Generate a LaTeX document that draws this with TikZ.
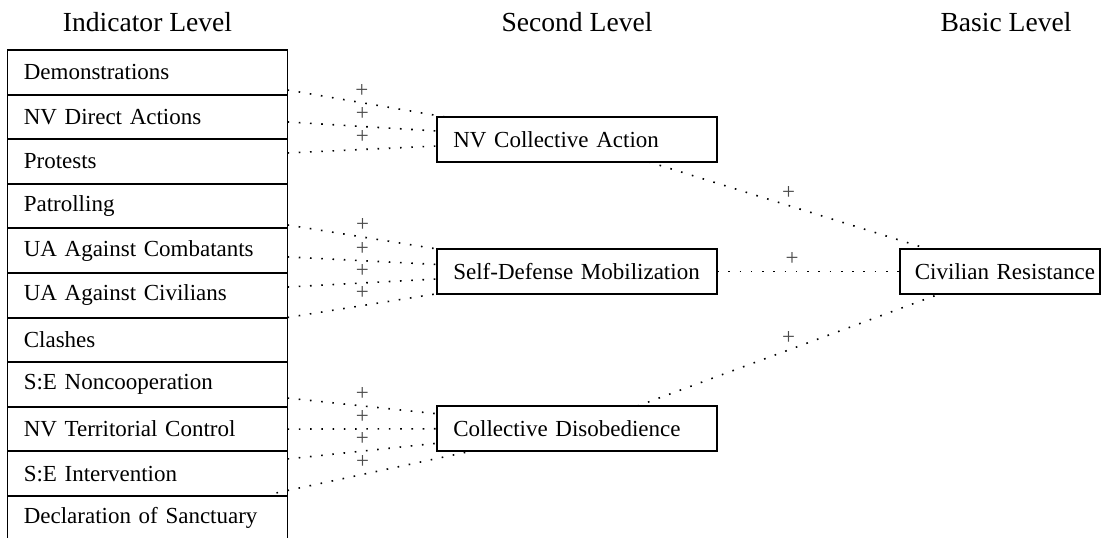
\documentclass[tikz,border=0pt]{standalone}
\usepackage{fontspec}
\setmainfont{Liberation Serif}
\tikzset{
        indicator/.style={draw, line width=0.8pt, outer sep=0pt, minimum height=19.5pt, inner ysep=0pt, inner xsep=7.1pt, text width=107.6pt, align=left, font=\fontsize{10}{12}\selectfont, execute at begin node={\hbox\bgroup}, execute at end node={\egroup}},
        outcome/.style={indicator, inner xsep=2.2pt, text width=82.6pt, align=right},
        levelhead/.style={anchor=base, font=\fontsize{12}{14}\selectfont},
        dotlink/.style={line width=0.7pt, dash pattern=on 0.7pt off 4.2pt},
        signlabel/.style={above, pos=0.5, inner sep=2.1pt, text=black!70, font=\fontsize{10}{12}\selectfont}
}
\begin{document}
\begin{tikzpicture}[x=0.435pt, y=-0.435pt]
        \useasboundingbox (0, 0) rectangle (1102, 538);
        \node[levelhead] (headind) at (147.5, 32) {Indicator Level};
        \node[levelhead] (headsec) at (577, 32) {Second Level};
        \node[levelhead] (headbas) at (1006, 32) {Basic Level};

        \node[indicator] (demo) at (147.5, 72.3) {Demonstrations};
        \node[indicator] (nvdir) at (147.5, 116.9) {NV Direct Actions};
        \node[indicator] (prot) at (147.5, 161.5) {Protests};
        \node[indicator] (patr) at (147.5, 206.1) {Patrolling};
        \node[indicator] (uacomb) at (147.5, 250.7) {UA Against Combatants};
        \node[indicator] (uaciv) at (147.5, 295.3) {UA Against Civilians};
        \node[indicator] (clash) at (147.5, 339.9) {Clashes};
        \node[indicator] (senonc) at (147.5, 384.5) {S:E Noncooperation};
        \node[indicator] (nvterr) at (147.5, 429.1) {NV Territorial Control};
        \node[indicator] (seint) at (147.5, 473.7) {S:E Intervention};
        \node[indicator] (decl) at (147.5, 518.3) {Declaration of Sanctuary};

        \node[indicator] (nvca) at (577, 139.5) {NV Collective Action};
        \node[indicator] (sdm) at (577, 271.5) {Self-Defense Mobilization};
        \node[indicator] (cdis) at (577, 428.5) {Collective Disobedience};

        \node[outcome] (civres) at (1000, 271.5) {Civilian Resistance};

        \draw[dotlink] ([yshift=-7.7pt]demo.east) -- node[signlabel, pos=0.47] {+} (nvca);
        \draw[dotlink] ([yshift=-2.2pt]nvdir.east) -- node[signlabel] {+} (nvca);
        \draw[dotlink] ([yshift=3.7pt]prot.east) -- node[signlabel] {+} (nvca);

        \draw[dotlink] ([yshift=-8.2pt]patr.east) -- node[signlabel] {+} (sdm);
        \draw[dotlink] ([yshift=-2.7pt]uacomb.east) -- node[signlabel] {+} (sdm);
        \draw[dotlink] ([yshift=3.6pt]uaciv.east) -- node[signlabel] {+} (sdm);
        \draw[dotlink] (clash.north east) -- node[signlabel] {+} (sdm);

        \draw[dotlink] ([yshift=-5.9pt]senonc.east) -- node[signlabel] {+} (cdis);
        \draw[dotlink] (nvterr.east) -- node[signlabel] {+} (cdis);
        \draw[dotlink] ([yshift=6.4pt]seint.east) -- node[signlabel] {+} (cdis);
        \draw[dotlink] ([xshift=-4.8pt, yshift=1.3pt]decl.north east) -- node[signlabel, pos=0.44] {+} (cdis);

        \draw[dotlink] (nvca) -- node[signlabel] {+} (civres);
        \draw[dotlink] (sdm) -- node[signlabel, pos=0.41] {+} (civres);
        \draw[dotlink] (cdis) -- node[signlabel] {+} (civres);
\end{tikzpicture}
\end{document}
